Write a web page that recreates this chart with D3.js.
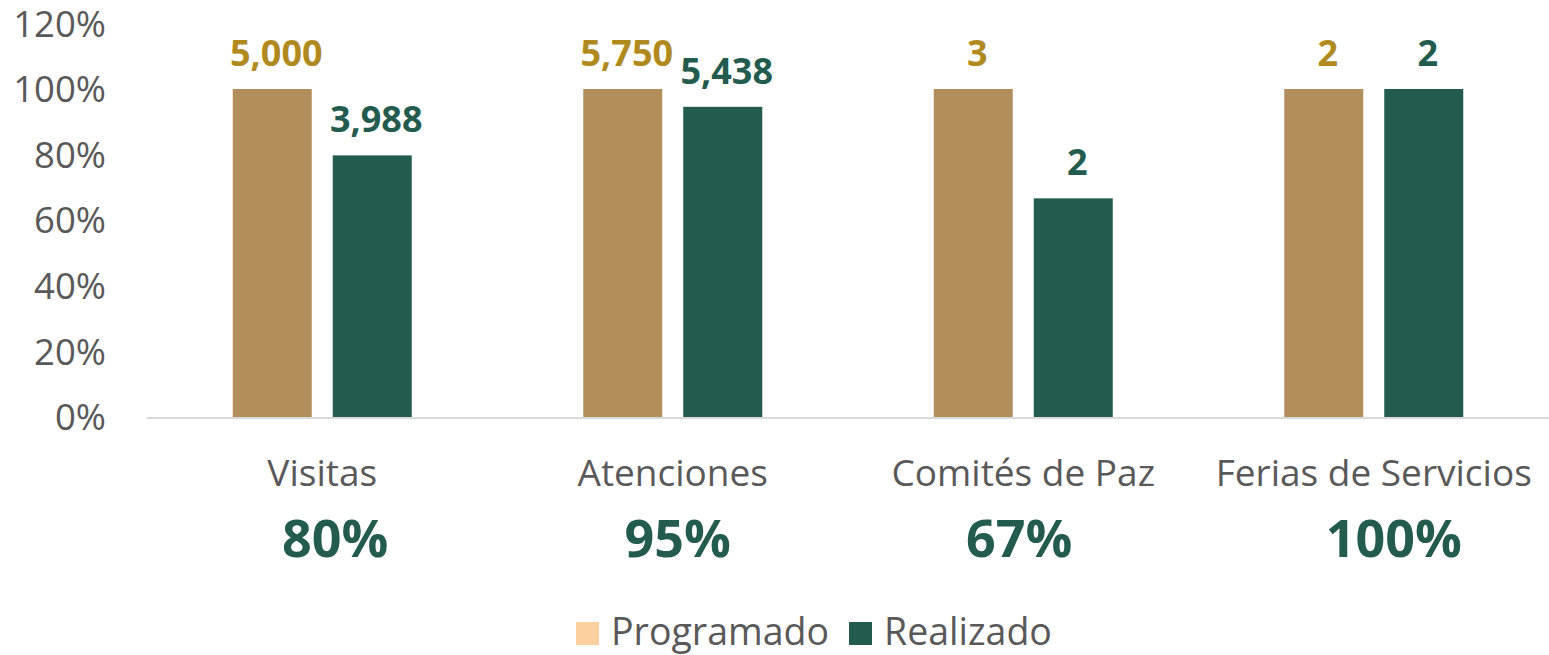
<!DOCTYPE html>
<html>
<head>
<meta charset="utf-8">
<title>Programado vs Realizado</title>
<style>
  body { margin: 0; background: #fff; }
  svg text { font-family: "Open Sans", "Noto Sans", sans-serif; }
</style>
</head>
<body>
<svg width="1549" height="655"></svg>
<script src="https://cdn.jsdelivr.net/npm/d3@7"></script>
<script>
// datos
const categorias = ["Visitas", "Atenciones", "Comités de Paz", "Ferias de Servicios"]
const programado = [5000, 5750, 3, 2]
const realizado = [3988, 5438, 2, 2]
const series = ["Programado", "Realizado"]
const ticksY = [0, 0.2, 0.4, 0.6, 0.8, 1.0, 1.2]

// colores
const colBarra = { Programado: "#B38E5D", Realizado: "#235B4E" }
const colEtiqueta = { Programado: "#B08A1E", Realizado: "#235B4E" }
const colLeyenda = { Programado: "#FDD0A2", Realizado: "#235B4E" }
const gris = "#595959"

// desplazamiento horizontal de los porcentajes (cuadros de texto)
const despPct = [13, 5, -4, 20]

const svg = d3.select("svg")

const filas = categorias.map((c, i) => ({
  cat: c,
  valores: [
    { s: "Programado", v: programado[i], pct: 1 },
    { s: "Realizado", v: realizado[i], pct: realizado[i] / programado[i] }
  ],
  cumpl: realizado[i] / programado[i]
}))

// escalas
const y = d3.scaleLinear().domain([0, 1.2]).range([417, 23.4])
const x0 = d3.scaleBand().domain(categorias).range([147, 1549]).paddingInner(0).paddingOuter(0)
const ancho = 179
const x1 = d3.scaleBand().domain(series).range([0, ancho]).paddingInner(21 / 100).paddingOuter(0)

// eje Y (solo etiquetas)
const ejeY = svg.append("g")
  .attr("transform", "translate(106,1)")
  .call(d3.axisLeft(y).tickValues(ticksY).tickFormat(d3.format(".0%")).tickSize(0).tickPadding(0))
ejeY.select(".domain").remove()
ejeY.selectAll("text")
  .attr("font-size", 36.5).attr("fill", gris)
  .attr("font-family", "Open Sans, Noto Sans, sans-serif")

// linea base
svg.append("line")
  .attr("x1", 147).attr("x2", 1549)
  .attr("y1", y(0) + 1).attr("y2", y(0) + 1)
  .attr("stroke", "#D9D9D9").attr("stroke-width", 2)

// grupos
const grupos = svg.selectAll(".grupo").data(filas).join("g")
  .attr("class", "grupo")
  .attr("transform", d => `translate(${x0(d.cat) + (x0.bandwidth() - ancho) / 2},0)`)

grupos.selectAll("rect").data(d => d.valores).join("rect")
  .attr("x", d => x1(d.s))
  .attr("width", x1.bandwidth())
  .attr("y", d => y(d.pct))
  .attr("height", d => y(0) - y(d.pct))
  .attr("fill", d => colBarra[d.s])

// etiquetas de valores
grupos.selectAll(".valor").data(d => d.valores).join("text")
  .attr("class", "valor")
  .attr("x", d => x1(d.s) + x1.bandwidth() / 2 + 4)
  .attr("y", d => y(d.pct) - 23)
  .attr("text-anchor", "middle")
  .attr("font-size", 36).attr("font-weight", "bold")
  .attr("fill", d => colEtiqueta[d.s])
  .text(d => d3.format(",")(d.v))

// categorias
svg.selectAll(".cat").data(filas).join("text")
  .attr("class", "cat")
  .attr("x", d => x0(d.cat) + x0.bandwidth() / 2)
  .attr("y", 486)
  .attr("text-anchor", "middle")
  .attr("font-size", 37).attr("fill", gris)
  .text(d => d.cat)

// porcentaje de cumplimiento
svg.selectAll(".pct").data(filas).join("text")
  .attr("class", "pct")
  .attr("x", (d, i) => x0(d.cat) + x0.bandwidth() / 2 + despPct[i])
  .attr("y", 557)
  .attr("text-anchor", "middle")
  .attr("font-size", 52).attr("font-weight", "bold")
  .attr("fill", "#235B4E")
  .text(d => d3.format(".0%")(d.cumpl))

// leyenda
const leyX = [576, 849]
const ley = svg.selectAll(".ley").data(series).join("g")
  .attr("class", "ley")
  .attr("transform", (d, i) => `translate(${leyX[i]},622)`)
ley.append("rect").attr("width", 23).attr("height", 23).attr("fill", d => colLeyenda[d])
ley.append("text").attr("x", 35).attr("y", 23)
  .attr("font-size", 37.5).attr("fill", gris)
  .text(d => d)
</script>
</body>
</html>
